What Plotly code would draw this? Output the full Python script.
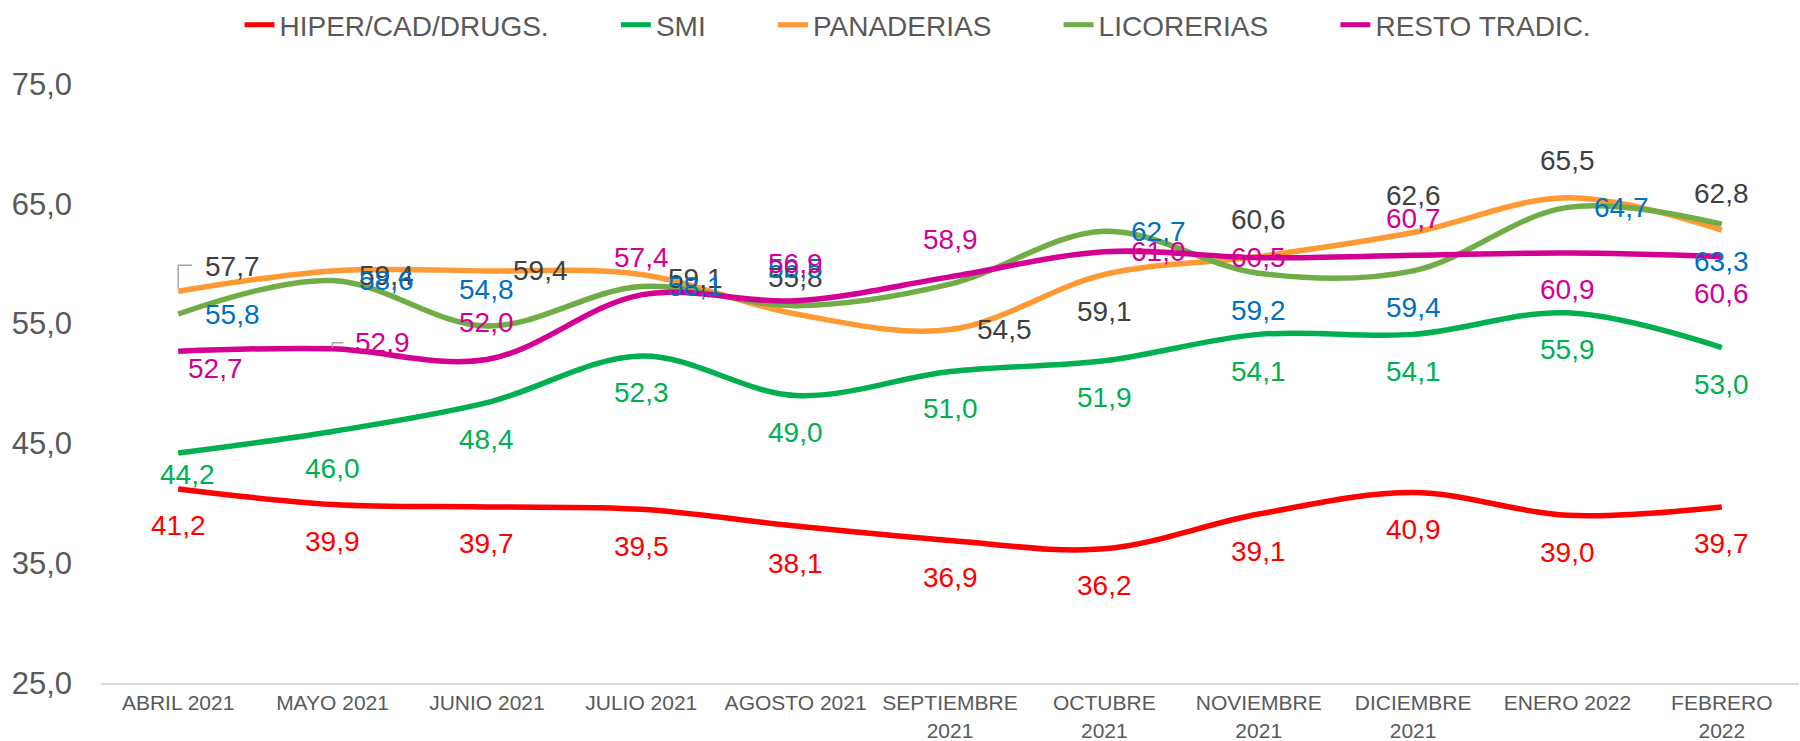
import plotly.graph_objects as go

# ---------------- data ----------------
months = ["ABRIL 2021", "MAYO 2021", "JUNIO 2021", "JULIO 2021", "AGOSTO 2021",
          "SEPTIEMBRE<br>2021", "OCTUBRE<br>2021", "NOVIEMBRE<br>2021",
          "DICIEMBRE<br>2021", "ENERO 2022", "FEBRERO<br>2022"]
hiper = [41.2, 39.9, 39.7, 39.5, 38.1, 36.9, 36.2, 39.1, 40.9, 39.0, 39.7]
smi = [44.2, 46.0, 48.4, 52.3, 49.0, 51.0, 51.9, 54.1, 54.1, 55.9, 53.0]
panaderias = [57.7, 59.4, 59.4, 59.1, 55.8, 54.5, 59.1, 60.6, 62.6, 65.5, 62.8]
licorerias = [55.8, 58.6, 54.8, 58.1, 56.5, 58.3, 62.7, 59.2, 59.4, 64.7, 63.3]
resto = [52.7, 52.9, 52.0, 57.4, 56.9, 58.9, 61.0, 60.5, 60.7, 60.9, 60.6]
y_ticks = [25, 35, 45, 55, 65, 75]

# ---------------- styles ----------------
A, B, R, C = (0, -37), (0, 37), (54, 0), (0, 0)
series = [
    dict(name="HIPER/CAD/DRUGS.", y=hiper, line="#FF0000", lab="#FF0000",
         pos=[B] * 11),
    dict(name="SMI", y=smi, line="#00B050", lab="#00B050",
         pos=[(9, 22)] + [B] * 10),
    dict(name="PANADERIAS", y=panaderias, line="#FF9933", lab="#404040",
         pos=[(54, -25), (54, 5), R, (54, 4), A, R, B, A, A, A, A]),
    dict(name="LICORERIAS", y=licorerias, line="#70AD47", lab="#0070C0",
         pos=[R, R, A, R, A, None, R, B, B, R, B]),
    dict(name="RESTO TRADIC.", y=resto, line="#D40093", lab="#D40093",
         pos=[(37, 17), (50, -6), A, A, A, A, R, C, A, B, B]),
]
# leader lines: (series index, point index, pixel path, y-up)
leaders = [(2, 0, "M 0,3 L 0,26 L 14,26"), (4, 1, "M 0,1 L 0,6 L 11,6")]
legend_pad = "\u00a0" * 8

FONT = "Liberation Sans, Arial, sans-serif"

fig = go.Figure()
for k, s in enumerate(series):
    fig.add_trace(go.Scatter(
        x=months, y=s["y"],
        name=s["name"] + (legend_pad if k < len(series) - 1 else ""),
        mode="lines",
        line=dict(color=s["line"], width=5.5, shape="spline", smoothing=1.0),
        hoverinfo="skip"))

annotations = []
for s in series:
    for i, (xv, yv) in enumerate(zip(months, s["y"])):
        p = s["pos"][i]
        if p is None:
            continue
        annotations.append(dict(
            x=xv, y=yv, xref="x", yref="y",
            text=f"{yv:.1f}".replace(".", ","),
            showarrow=False, xshift=p[0], yshift=-p[1],
            font=dict(family=FONT, size=28, color=s["lab"]),
            xanchor="center", yanchor="middle"))

shapes = []
for si, pi, path in leaders:
    shapes.append(dict(
        type="path", xref="x", yref="y", xsizemode="pixel", ysizemode="pixel",
        xanchor=months[pi], yanchor=series[si]["y"][pi], path=path,
        line=dict(color="#A6A6A6", width=1.5)))

fig.update_layout(
    width=1800, height=741,
    margin=dict(l=101, r=1, t=84, b=58, autoexpand=False),
    paper_bgcolor="white", plot_bgcolor="white",
    separators=",.",
    showlegend=True,
    legend=dict(orientation="h", xref="container", yref="container",
                x=0.51, xanchor="center", y=1.0, yanchor="top",
                font=dict(family=FONT, size=28, color="#595959"),
                tracegroupgap=0, itemsizing="constant"),
    annotations=annotations,
    shapes=shapes,
)
fig.update_xaxes(
    type="category", range=[-0.5, len(months) - 0.5], automargin=False,
    showgrid=False, zeroline=False,
    showline=True, linecolor="#D9D9D9", linewidth=2,
    ticks="", tickfont=dict(family=FONT, size=21, color="#595959"),
    tickangle=0)
fig.update_yaxes(
    range=[25, 75], tickvals=y_ticks, tickformat=".1f", automargin=False,
    showgrid=False, zeroline=False, showline=False, ticks="",
    ticklabelstandoff=28,
    tickfont=dict(family=FONT, size=31, color="#595959"))

fig.write_html("out.html", config={"displayModeBar": False},
               post_script="document.body.style.margin='0';document.body.style.overflow='hidden';")
